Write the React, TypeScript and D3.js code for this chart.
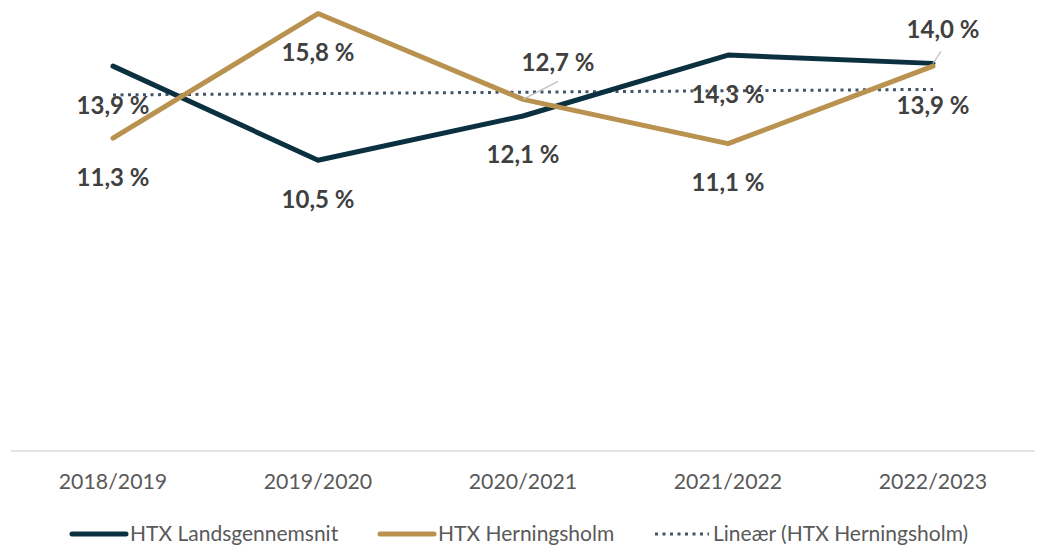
import React from "react";
import * as d3 from "d3";

const categories = ["2018/2019", "2019/2020", "2020/2021", "2021/2022", "2022/2023"];
const landsgennemsnit = [13.9, 10.5, 12.1, 14.3, 14.0];
const herningsholm = [11.3, 15.8, 12.7, 11.1, 13.9];
const seriesNames = ["HTX Landsgennemsnit", "HTX Herningsholm", "Lineær (HTX Herningsholm)"];

const W = 1037;
const H = 546;
const NAVY = "#0b3040";
const GOLD = "#b8924e";
const TREND = "#44546a";
const LABEL = "#404040";
const AXIS_TXT = "#595959";
const FONT = "Lato, 'Open Sans', sans-serif";

// label offsets (manually moved labels in the original) with leader end offsets
const navyLabelOffset = [null, null, null, null, { dx: 10, dy: -35, lx: 8, ly: -12 }];
const goldLabelOffset = [null, null, { dx: 35, dy: -38, lx: 35, ly: -18 }, null, null];

function fmt(v: number) {
  return v.toFixed(1).replace(".", ",") + " %";
}

export default function App() {
  const x = d3.scalePoint<string>().domain(categories).range([10.5, 1035.5]).padding(0.5);
  const y = d3.scaleLinear().domain([0, 16]).range([451, 8]);

  // linear trend of Herningsholm
  const xs = herningsholm.map((_, i) => i + 1);
  const mx = d3.mean(xs)!;
  const my = d3.mean(herningsholm)!;
  const slope =
    d3.sum(xs.map((xi, i) => (xi - mx) * (herningsholm[i] - my))) /
    d3.sum(xs.map((xi) => (xi - mx) ** 2));
  const trend = xs.map((xi) => my + slope * (xi - mx));

  const line = d3
    .line<number>()
    .x((_, i) => x(categories[i])!)
    .y((d) => y(d));

  const labelStyle = {
    textAnchor: "middle" as const,
    dominantBaseline: "central" as const,
    fontSize: 24,
    fontWeight: 700,
    fill: LABEL,
    fontFamily: FONT,
  };

  const labelFor = (vals: number[], offsets: any[], key: string) =>
    vals.map((v, i) => {
      const px = x(categories[i])!;
      const py = y(v);
      const off = offsets[i];
      if (off) {
        return (
          <g key={key + i}>
            <line x1={px} y1={py} x2={px + off.lx} y2={py + off.ly} stroke="#bfbfbf" strokeWidth={1.2} />
            <text x={px + off.dx} y={py + off.dy} {...labelStyle}>
              {fmt(v)}
            </text>
          </g>
        );
      }
      return (
        <text key={key + i} x={px} y={py + 38} {...labelStyle}>
          {fmt(v)}
        </text>
      );
    });

  const legendY = 532;
  const DOTS = "3,4.5";
  const legendItems = [
    { x0: 72, color: NAVY, dash: undefined as string | undefined, w: 5, name: seriesNames[0] },
    { x0: 380, color: GOLD, dash: undefined, w: 5, name: seriesNames[1] },
    { x0: 655, color: TREND, dash: DOTS, w: 3, name: seriesNames[2] },
  ];

  return (
    <svg width={W} height={H} style={{ position: "absolute", left: 0, top: 0, background: "#fff" }}>
      <line x1={11} x2={1035} y1={y(0)} y2={y(0)} stroke="#d9d9d9" strokeWidth={1.5} />
      {categories.map((c) => (
        <text key={c} x={x(c)!} y={481} textAnchor="middle" dominantBaseline="central" fontSize={21.3} fill={AXIS_TXT} fontFamily={FONT}>
          {c}
        </text>
      ))}
      <path d={line(trend)!} fill="none" stroke={TREND} strokeWidth={3} strokeDasharray={DOTS} />
      <path d={line(landsgennemsnit)!} fill="none" stroke={NAVY} strokeWidth={5} strokeLinejoin="round" strokeLinecap="round" />
      <path d={line(herningsholm)!} fill="none" stroke={GOLD} strokeWidth={5} strokeLinejoin="round" strokeLinecap="round" />
      {labelFor(landsgennemsnit, navyLabelOffset, "n")}
      {labelFor(herningsholm, goldLabelOffset, "g")}
      {legendItems.map((it) => (
        <g key={it.name}>
          <line x1={it.x0} x2={it.x0 + 54} y1={legendY + 2} y2={legendY + 2} stroke={it.color} strokeWidth={it.w} strokeDasharray={it.dash} strokeLinecap={it.dash ? "butt" : "round"} />
          <text x={it.x0 + 58} y={legendY} dominantBaseline="central" fontSize={21} fill={AXIS_TXT} fontFamily={FONT}>
            {it.name}
          </text>
        </g>
      ))}
    </svg>
  );
}
